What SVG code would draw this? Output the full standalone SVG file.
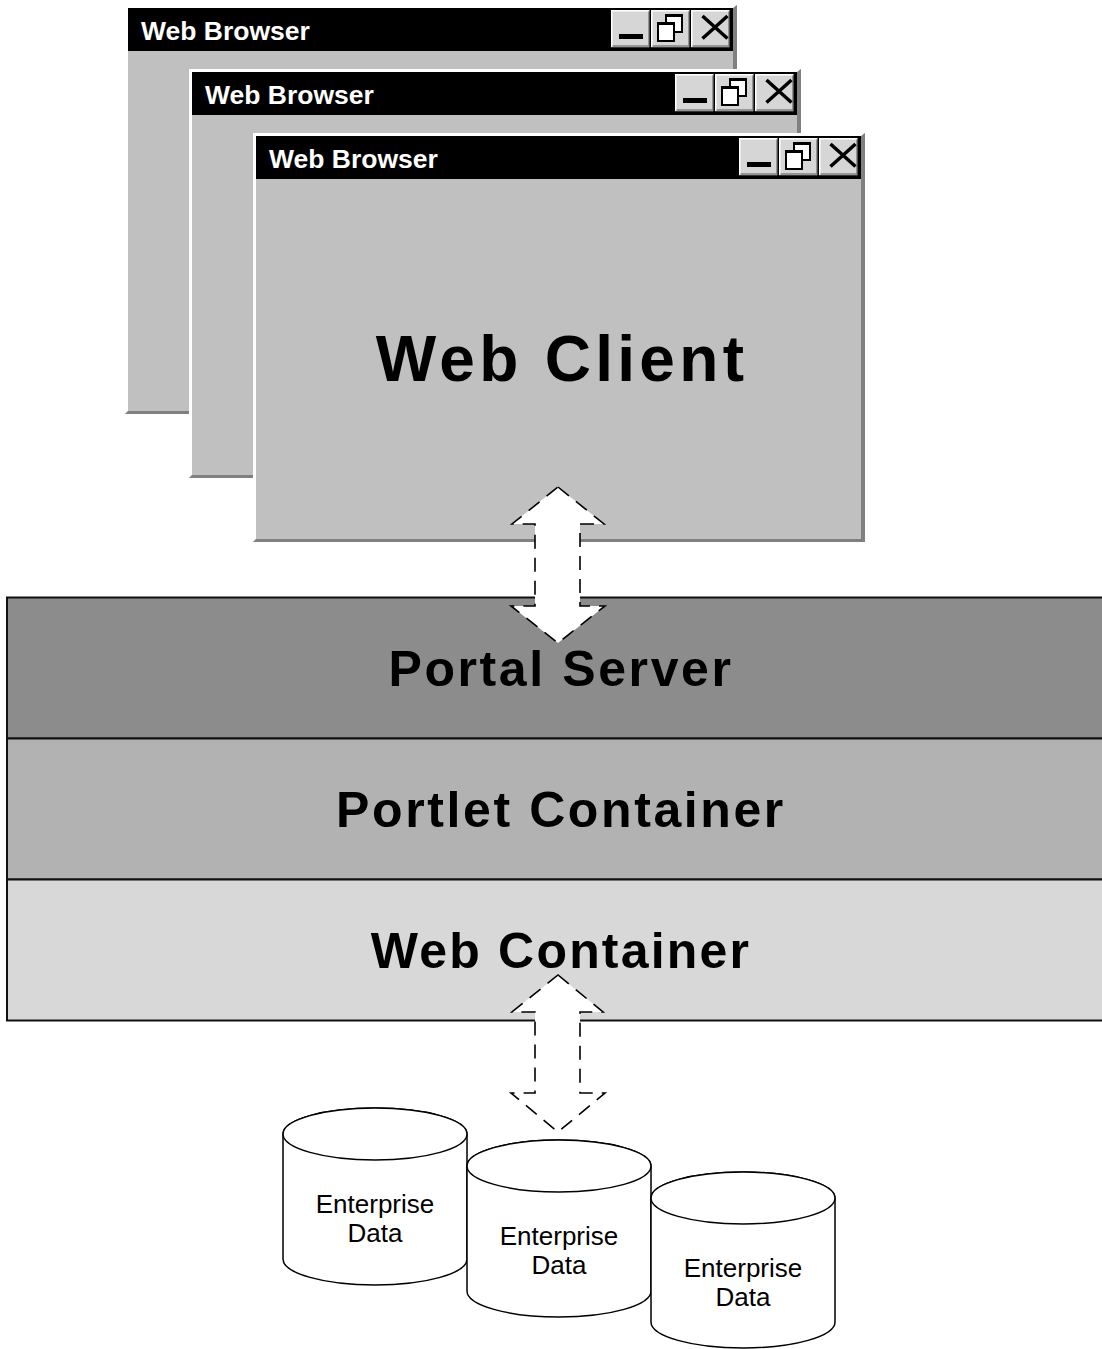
<svg xmlns="http://www.w3.org/2000/svg" xmlns:xlink="http://www.w3.org/1999/xlink" width="1102" height="1349" viewBox="0 0 1102 1349">
<style>
.title{font-family:"Liberation Sans",Arial,sans-serif;font-weight:bold;font-size:26.5px;fill:#fff}
.big{font-family:"Liberation Sans",Arial,sans-serif;font-weight:bold;fill:#000;text-anchor:middle}
.db{font-family:"Liberation Sans",Arial,sans-serif;font-size:26px;fill:#000;text-anchor:middle}
.layer{stroke:#111;stroke-width:2}
.arrow{fill:#fff;stroke:#000;stroke-width:1.6;stroke-dasharray:14 9}
.cyl{fill:#fff;stroke:#000;stroke-width:1.5}
</style>
<defs>
<g id="btn">
<rect x="0" y="0" width="40" height="38" fill="#d6d6d6"/>
<polyline points="0.75,37 0.75,0.75 39,0.75" fill="none" stroke="#fff" stroke-width="1.5"/>
<polyline points="1.5,36 38,36 38,1.5" fill="none" stroke="#808080" stroke-width="1.5"/>
<polyline points="0,38 39.25,38 39.25,0" fill="none" stroke="#000" stroke-width="1.5"/>
</g>
<g id="btnset">
<use xlink:href="#btn" x="0" y="0"/>
<rect x="8" y="24" width="24" height="5" fill="#000"/>
<use xlink:href="#btn" x="40" y="0"/>
<rect x="55" y="5" width="16" height="17" fill="#fff" stroke="#000" stroke-width="2"/>
<rect x="55" y="4" width="16" height="3" fill="#000"/>
<rect x="47" y="13" width="16" height="18" fill="#fff" stroke="#000" stroke-width="2"/>
<rect x="47" y="12" width="16" height="3" fill="#000"/>
<use xlink:href="#btn" x="80" y="0"/>
<path d="M91.5,6 L116.5,28.5 M116.5,6 L91.5,28.5" stroke="#000" stroke-width="3.5" fill="none"/>
</g>
<g id="frame">
<rect x="0" y="0" width="612" height="409" fill="#c0c0c0"/>
<polygon points="0,0 612,0 609,3 3,3 3,406 0,409" fill="#fff"/>
<polygon points="0,409 3,406 608,406 608,3 612,0 612,409" fill="#808080"/>
<rect x="3" y="3" width="605" height="43" fill="#000"/>
<use xlink:href="#btnset" x="486" y="5"/>
</g>
</defs>

<g id="browser1" transform="translate(125,5)">
<use xlink:href="#frame"/>
<text class="title" x="16" y="35">Web Browser</text>
</g>
<g id="browser2" transform="translate(189,69)">
<use xlink:href="#frame"/>
<text class="title" x="16" y="35">Web Browser</text>
</g>
<g id="browser3" transform="translate(253,133)">
<use xlink:href="#frame"/>
<text class="title" x="16" y="35">Web Browser</text>
<text class="big" x="309" y="248" font-size="64" letter-spacing="4.3">Web Client</text>
</g>

<g id="portal-server">
<rect class="layer" x="7" y="597.5" width="1100" height="141" fill="#8c8c8c"/>
<text class="big" x="561" y="686" font-size="50" letter-spacing="2.6">Portal Server</text>
</g>
<g id="portlet-container">
<rect class="layer" x="7" y="738.5" width="1100" height="141" fill="#b2b2b2"/>
<text class="big" x="561" y="827" font-size="50" letter-spacing="2.6">Portlet Container</text>
</g>
<g id="web-container">
<rect class="layer" x="7" y="879.5" width="1100" height="141" fill="#d8d8d8"/>
<text class="big" x="561" y="968" font-size="50" letter-spacing="2.2">Web Container</text>
</g>

<g id="db1">
<path class="cyl" d="M283,1134 A92,26 0 0 1 467,1134 L467,1259 A92,26 0 0 1 283,1259 Z"/>
<ellipse class="cyl" cx="375" cy="1134" rx="92" ry="26"/>
<text class="db" x="375" y="1213">Enterprise</text>
<text class="db" x="375" y="1242">Data</text>
</g>
<g id="db2">
<path class="cyl" d="M467,1166 A92,26 0 0 1 651,1166 L651,1291 A92,26 0 0 1 467,1291 Z"/>
<ellipse class="cyl" cx="559" cy="1166" rx="92" ry="26"/>
<text class="db" x="559" y="1245">Enterprise</text>
<text class="db" x="559" y="1274">Data</text>
</g>
<g id="db3">
<path class="cyl" d="M651,1198 A92,26 0 0 1 835,1198 L835,1322 A92,26 0 0 1 651,1322 Z"/>
<ellipse class="cyl" cx="743" cy="1198" rx="92" ry="26"/>
<text class="db" x="743" y="1277">Enterprise</text>
<text class="db" x="743" y="1306">Data</text>
</g>

<g id="connectors">
<path class="arrow" d="M558,487 L604,524 L580,524 L580,606 L605,606 L558,643 L511,606 L535,606 L535,524 L512,524 Z"/>
<path class="arrow" d="M558,975 L603,1012 L580,1012 L580,1093 L605,1093 L558,1132 L511,1093 L535,1093 L535,1012 L512,1012 Z"/>
</g>
</svg>
